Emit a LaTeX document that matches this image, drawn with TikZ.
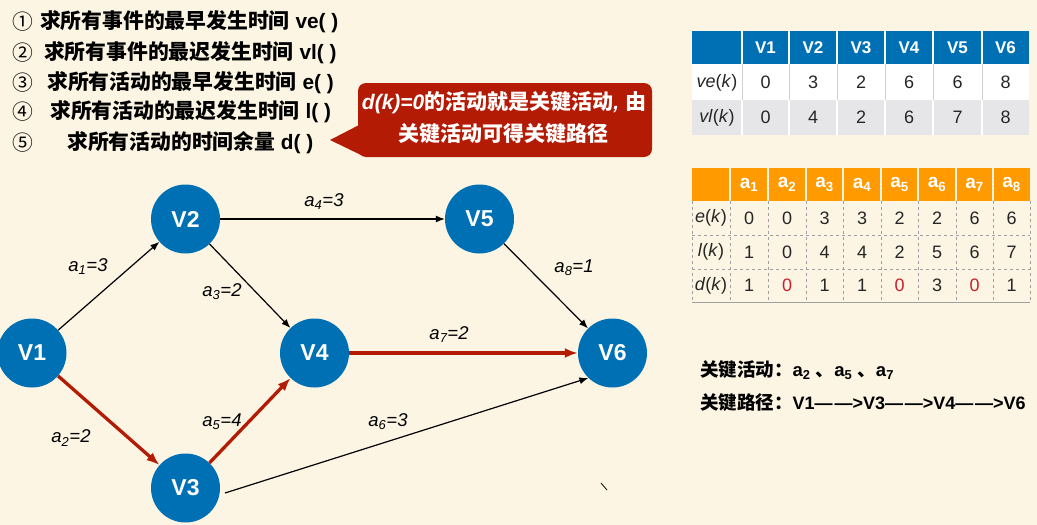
\documentclass[tikz,border=0pt]{standalone}
\usepackage{fontspec}
\setmainfont{Liberation Sans}
\newfontfamily\cjk{Noto Sans CJK SC}
\usetikzlibrary{arrows.meta}
\definecolor{bg}{HTML}{FCF5E3}
\definecolor{nblue}{HTML}{0070B5}
\definecolor{cred}{HTML}{B31B05}
\definecolor{tred}{HTML}{C8202E}
\definecolor{orng}{HTML}{FF9A00}
\definecolor{rowgray}{HTML}{E6E6E9}
\definecolor{tgray}{HTML}{A0A0A0}
\newcommand{\myfs}[1]{\fontsize{#1}{#1}\selectfont}
\newcommand{\arr}{—\hspace{0.1em}—>}
\begin{document}
\begin{tikzpicture}[x=1pt,y=-1pt,
  vtx/.style={circle, fill=nblue, minimum size=69pt, inner sep=0pt, text=white, font=\myfs{23}\bfseries},
  blk/.style={-{Latex[length=9pt,width=7pt]}, line width=1.2pt, black},
  crit/.style={-{Latex[length=13pt,width=10pt]}, line width=3.3pt, cred},
  lbl/.style={inner sep=0pt, font=\myfs{18.5}\itshape},
  item/.style={anchor=west, inner sep=0pt, font=\myfs{20.8}\bfseries},
  num/.style={anchor=west, inner sep=0pt, font=\myfs{20.8}},
  hdr/.style={inner sep=0pt, text=white, font=\myfs{17}\bfseries},
  hdrb/.style={inner sep=0pt, text=white, font=\myfs{19}\bfseries},
  cell/.style={inner sep=0pt, text=black!85, font=\myfs{18}},
  note/.style={anchor=west, inner sep=0pt, font=\myfs{18.5}\bfseries}
]
\useasboundingbox (0,0) rectangle (1037,525);
\fill[bg] (0,0) rectangle (1037,525);

% ---------- list ----------
\node[num] (n1) at (12,22) {\cjk ①};
\node[item] (t1) at (40,22) {{\cjk\bfseries 求所有事件的最早发生时间} ve( )};
\node[num] (n2) at (12,53) {\cjk ②};
\node[item] (t2) at (44,53) {{\cjk\bfseries 求所有事件的最迟发生时间} vl( )};
\node[num] (n3) at (12,83) {\cjk ③};
\node[item] (t3) at (47,83) {{\cjk\bfseries 求所有活动的最早发生时间} e( )};
\node[num] (n4) at (12,112) {\cjk ④};
\node[item] (t4) at (50,112) {{\cjk\bfseries 求所有活动的最迟发生时间} l( )};
\node[num] (n5) at (12,143) {\cjk ⑤};
\node[item] (t5) at (67,143) {{\cjk\bfseries 求所有活动的时间余量} d( )};

% ---------- callout ----------
\fill[cred, rounded corners=8pt] (358,83) rectangle (652,157);
\fill[cred] (330,140) -- (361,124) -- (361,155) -- cycle;
\node[inner sep=0pt, text=white, font=\myfs{21}] (c1) at (504,103)
  {{\bfseries\itshape d(k)=0}{\cjk\bfseries 的活动就是关键活动}{\bfseries\itshape ,} {\cjk\bfseries 由}};
\node[inner sep=0pt, text=white, font=\myfs{21}] (c2) at (503,134)
  {{\cjk\bfseries 关键活动可得关键路径}};

% ---------- graph ----------
\node[vtx] (V1) at (32,353) {V1};
\node[vtx] (V2) at (185.5,219) {V2};
\node[vtx] (V3) at (185.5,488) {V3};
\node[vtx] (V4) at (314.5,353) {V4};
\node[vtx] (V5) at (479.5,219) {V5};
\node[vtx] (V6) at (612.5,353) {V6};
\coordinate (s6) at (225,493);

\draw[blk] (V1) -- (V2);
\draw[blk] (V2) -- (V4);
\draw[blk] (V2) -- (V5);
\draw[blk] (V5) -- (V6);
\draw[blk] (s6) -- (V6.226);
\draw[crit] (V1) -- (V3);
\draw[crit] (V3) -- (V4);
\draw[crit] (V4) -- (V6);

\node[lbl] (l1) at (88,267) {a\textsubscript{1}=3};
\node[lbl] (l2) at (71,438) {a\textsubscript{2}=2};
\node[lbl] (l3) at (222,292) {a\textsubscript{3}=2};
\node[lbl] (l4) at (324,202) {a\textsubscript{4}=3};
\node[lbl] (l5) at (222,422) {a\textsubscript{5}=4};
\node[lbl] (l6) at (388,422) {a\textsubscript{6}=3};
\node[lbl] (l7) at (449,335) {a\textsubscript{7}=2};
\node[lbl] (l8) at (574,268) {a\textsubscript{8}=1};

\draw[line width=0.8pt] (601,483) -- (607,490);

% ---------- table 1 ----------
\fill[nblue] (692,31) rectangle (1029,64);
\fill[white] (692,64) rectangle (1029,100);
\fill[rowgray] (692,100) rectangle (1029,135);
\foreach \x in {742,789,837,885,933,982}{
  \draw[white, line width=1.5pt] (\x,31) -- (\x,64);
  \draw[black!18, line width=1pt] (\x,64) -- (\x,100);
  \draw[white, line width=1.5pt] (\x,100) -- (\x,135);
}
\foreach \x/\t [count=\i] in {765.5/V1,813/V2,861/V3,909/V4,957.5/V5,1005.5/V6}
  \node[hdr] (h\i) at (\x,47.5) {\t};
\node[cell] (ver) at (717,82.5) {\textit{ve}(\textit{k})};
\node[cell] (vlr) at (717,117.5) {\textit{vl}(\textit{k})};
\foreach \x/\a/\b [count=\i] in {765.5/0/0,813/3/4,861/2/2,909/6/6,957.5/6/7,1005.5/8/8}{
  \node[cell] (ve\i) at (\x,82.5) {\a};
  \node[cell] (vl\i) at (\x,117.5) {\b};
}

% ---------- table 2 ----------
\fill[orng] (692,168) rectangle (1030,201);
\foreach \x in {730,768,806,843,881,918,956,993}
  \draw[bg, line width=1.2pt] (\x,168) -- (\x,201);
\foreach \x in {692,730,768,806,843,881,918,956,993,1030}
  \draw[tgray, dashed, line width=0.8pt] (\x,201) -- (\x,302);
\foreach \y in {235,269}
  \draw[tgray, dashed, line width=0.8pt] (692,\y) -- (1030,\y);
\draw[tgray, line width=1pt] (692,302) -- (1030,302);
\foreach \x [count=\i] in {749,787,824.5,862,899.5,937,974.5,1011.5}
  \node[hdrb] (a\i) at (\x,184.5) {a\textsubscript{\i}};
\node[cell] (er) at (711,218) {\textit{e}(\textit{k})};
\node[cell] (lr) at (711,252) {\textit{l}(\textit{k})};
\node[cell] (dr) at (711,285.5) {\textit{d}(\textit{k})};
\foreach \x/\e/\l/\d/\c [count=\i] in {749/0/1/1/black!85,787/0/0/0/tred,824.5/3/4/1/black!85,862/3/4/1/black!85,899.5/2/2/0/tred,937/2/5/3/black!85,974.5/6/6/0/tred,1011.5/6/7/1/black!85}{
  \node[cell] (e\i) at (\x,218) {\e};
  \node[cell] (l\i) at (\x,252) {\l};
  \node[cell, text=\c] (d\i) at (\x,285.5) {\d};
}

% ---------- notes ----------
\node[note] (k1) at (700,370) {{\cjk\bfseries 关键活动：}a\textsubscript{2} {\cjk\bfseries 、}a\textsubscript{5} {\cjk\bfseries 、}a\textsubscript{7}};
\node[note] (k2) at (700,403) {{\cjk\bfseries 关键路径：}{\myfs{18}V1\arr V3\arr V4\arr V6}};
\end{tikzpicture}
\end{document}
